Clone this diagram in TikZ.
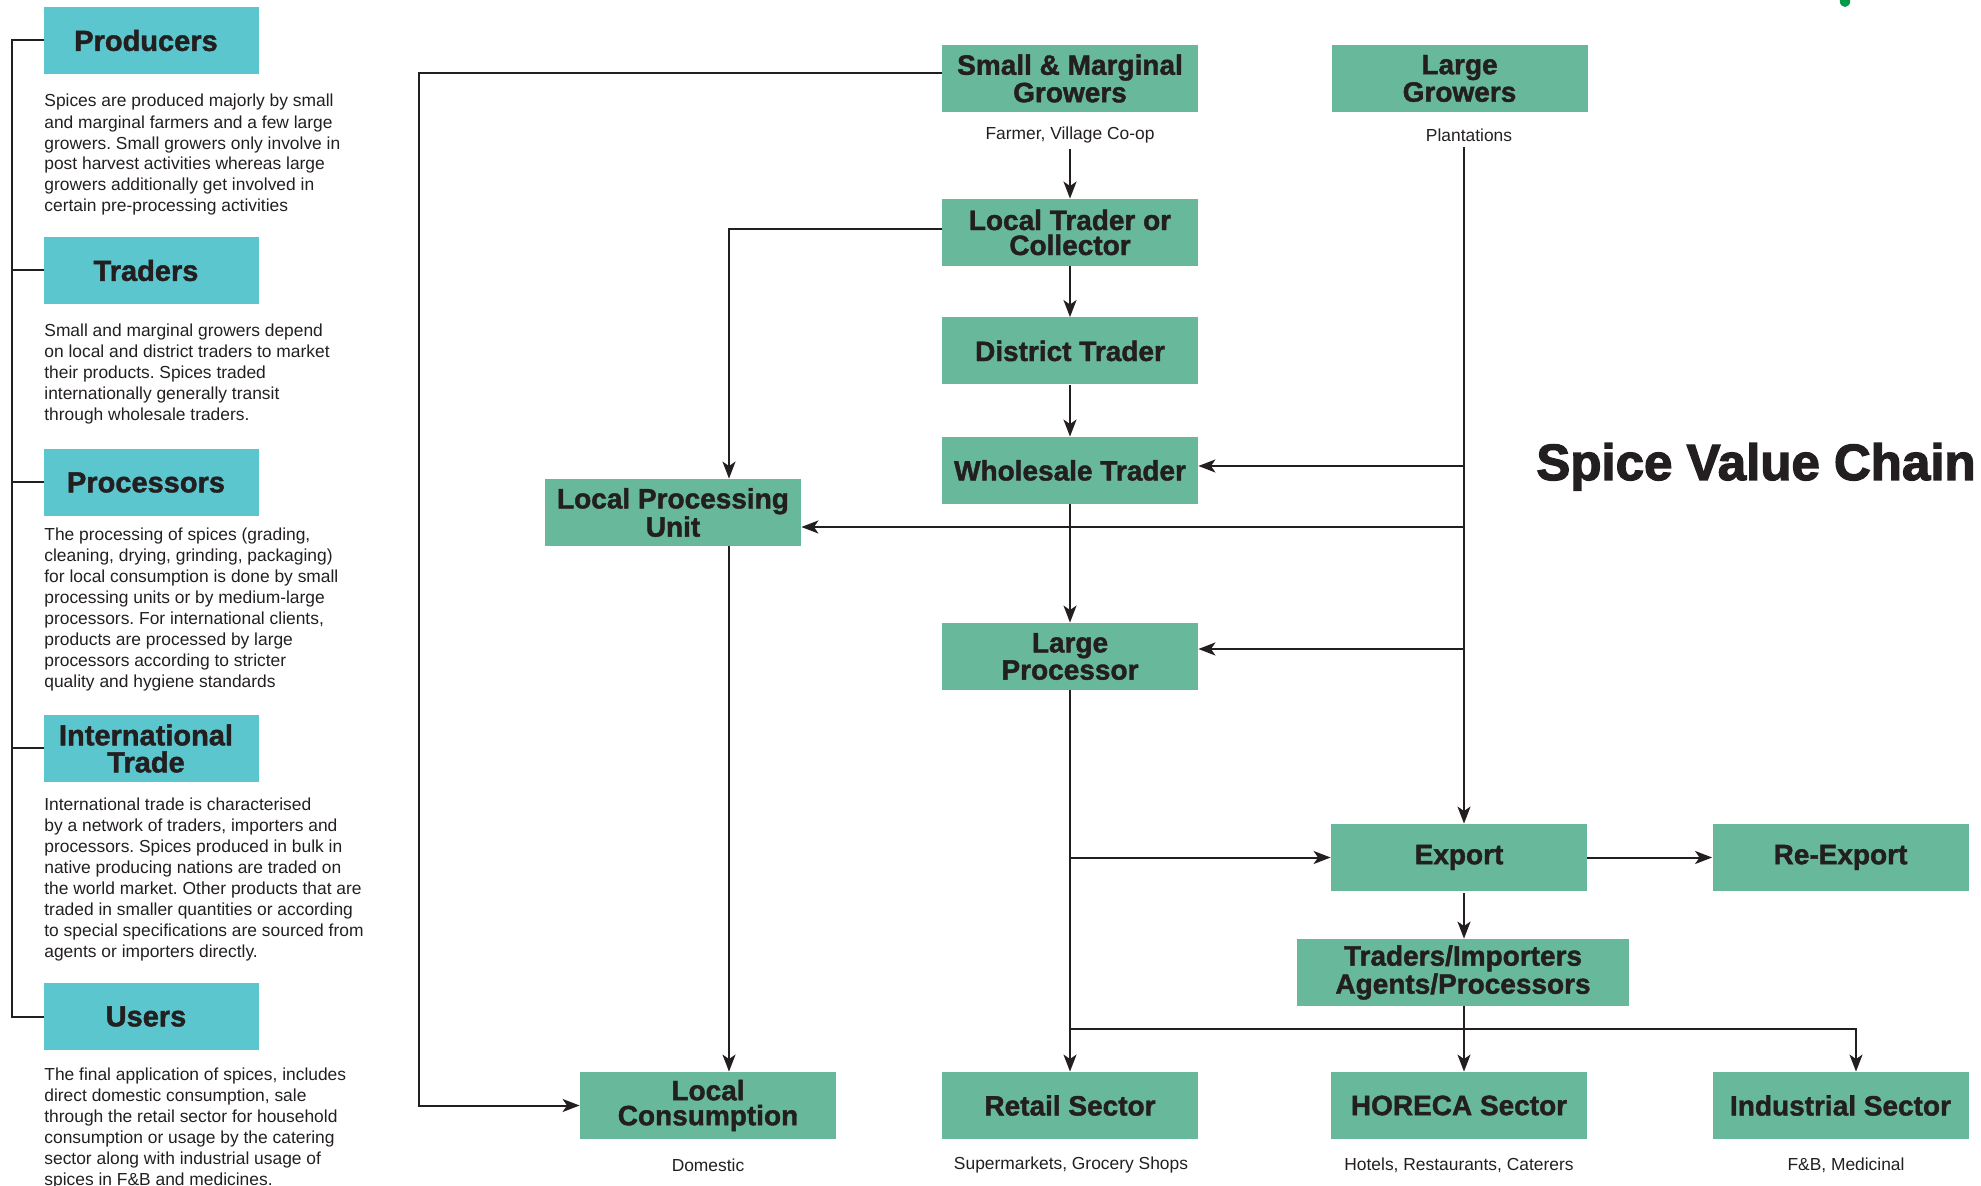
\documentclass[tikz,border=0pt]{standalone}
\usepackage{fontspec}
\setmainfont{Liberation Sans}
\newfontfamily\heavyfont{Liberation Sans Bold}[FakeBold=1.5]
\newfontfamily\titlefont{Liberation Sans Bold}[FakeBold=2.5]
\usetikzlibrary{arrows.meta}
\definecolor{boxgreen}{RGB}{104,184,155}
\definecolor{boxcyan}{RGB}{91,198,206}
\definecolor{ink}{RGB}{35,31,32}
\definecolor{logogreen}{RGB}{0,155,72}
\frenchspacing
\begin{document}
\begin{tikzpicture}[x=0.5pt,y=-0.5pt,
 flow/.style={fill=boxgreen, minimum width=128pt, minimum height=33.5pt, inner sep=0pt, align=center, font=\heavyfont\fontsize{14}{12.5}\selectfont, text=ink},
 cat/.style={fill=boxcyan, minimum width=107.5pt, minimum height=33.5pt, inner sep=0pt},
 cattext/.style={inner sep=0pt, align=center, font=\heavyfont\fontsize{14.5}{13.5}\selectfont, text=ink},
 desc/.style={anchor=north west, inner sep=0pt, align=left, font=\fontsize{8.7}{10.5}\selectfont, text=ink},
 sub/.style={inner sep=0pt, font=\fontsize{8.7}{10}\selectfont, text=ink},
 arr/.style={draw=ink, line width=1pt, -{Stealth[length=8.5pt,width=6.5pt,inset=2.2pt]}},
 ln/.style={draw=ink, line width=1pt}]
\useasboundingbox (0,0) rectangle (1981,1186);

% partial logo at the top edge
\fill[logogreen] (1845,1) ellipse [x radius=2.6pt, y radius=3pt];

% left column
\node[cat] (prod) at (151.5,40.5) {};
\node[cat] (trad) at (151.5,270.5) {};
\node[cat] (proc) at (151.5,482.5) {};
\node[cat] (intl) at (151.5,748.5) {};
\node[cat] (users) at (151.5,1016.5) {};
\node[cattext] (prodt) at ([xshift=-2.75pt]prod.center) {Producers};
\node[cattext] (tradt) at ([xshift=-2.75pt]trad.center) {Traders};
\node[cattext] (proct) at ([xshift=-2.75pt]proc.center) {Processors};
\node[cattext] (intlt) at ([xshift=-2.75pt]intl.center) {International\\Trade};
\node[cattext] (userst) at ([xshift=-2.75pt]users.center) {Users};

\node[desc] (dprod) at (44,94) {Spices are produced majorly by small\\and marginal farmers and a few large\\growers. Small growers only involve in\\post harvest activities whereas large\\growers additionally get involved in\\certain pre-processing activities};
\node[desc] (dtrad) at (44,323) {Small and marginal growers depend\\on local and district traders to market\\their products. Spices traded\\internationally generally transit\\through wholesale traders.};
\node[desc] (dproc) at (44,527) {The processing of spices (grading,\\cleaning, drying, grinding, packaging)\\for local consumption is done by small\\processing units or by medium-large\\processors. For international clients,\\products are processed by large\\processors according to stricter\\quality and hygiene standards};
\node[desc] (dintl) at (44,797) {International trade is characterised\\by a network of traders, importers and\\processors. Spices produced in bulk in\\native producing nations are traded on\\the world market. Other products that are\\traded in smaller quantities or according\\to special specifications are sourced from\\agents or importers directly.};
\node[desc] (dusers) at (44,1067) {The final application of spices, includes\\direct domestic consumption, sale\\through the retail sector for household\\consumption or usage by the catering\\sector along with industrial usage of\\spices in F\&B and medicines.};

\draw[ln] (prod.west) -- ++(-32,0) |- (users.west);
\foreach \n in {trad,proc,intl} \draw[ln] (\n.west) -- ++(-32,0);

% title
\node[anchor=base, inner sep=0pt, font=\titlefont\fontsize{25.5}{30}\selectfont, text=ink] (title) at (1756,480) {Spice Value Chain};

% flow boxes
\node[flow] (smg) at (1070,78.5) {Small \& Marginal\\Growers};
\node[flow] (lg) at (1459.5,78.5) {Large\\Growers};
\node[flow] (ltc) at (1070,232.5) {Local Trader or\\Collector};
\node[flow] (dt) at (1070,351) {District Trader};
\node[flow] (wt) at (1070,470.5) {Wholesale Trader};
\node[flow] (lpu) at (673,512.5) {Local Processing\\Unit};
\node[flow] (lp) at (1070,656.5) {Large\\Processor};
\node[flow] (export) at (1459,857.5) {Export};
\node[flow] (reexport) at (1840.5,857.5) {Re-Export};
\node[flow, minimum width=166pt] (ti) at (1463,972.5) {Traders/Importers\\Agents/Processors};
\node[flow] (lc) at (708,1105.5) {Local\\Consumption};
\node[flow] (retail) at (1070,1105.5) {Retail Sector};
\node[flow] (horeca) at (1459,1105.5) {HORECA Sector};
\node[flow] (ind) at (1840.5,1105.5) {Industrial Sector};

% sub labels
\node[sub] (farmer) at (1070,135) {Farmer, Village Co-op};
\node[sub] (plant) at (1469,135) {Plantations};
\node[sub] (dom) at (708,1165) {Domestic};
\node[sub] (super) at (1071,1165) {Supermarkets, Grocery Shops};
\node[sub] (hotels) at (1459,1165) {Hotels, Restaurants, Caterers};
\node[sub] (fb) at (1846,1165) {F\&B, Medicinal};

% helper coordinates
\coordinate (xa) at (419,0);
\coordinate (xb) at (729,0);
\coordinate (xt) at (1464,0);
\coordinate (xi) at (1856,0);
\coordinate (smgout) at ([yshift=2.75pt]smg.west);
\coordinate (ltcout) at ([yshift=1.75pt]ltc.west);
\coordinate (wtin) at ([yshift=2.25pt]wt.east);
\coordinate (lpuin) at ([yshift=-7.25pt]lpu.east);
\coordinate (lpin) at ([yshift=3.75pt]lp.east);
\coordinate (split) at (1071,1029);

% connectors
\draw[arr] (smgout) -- (smgout -| xa) |- (lc.west);
\draw[arr] ([yshift=-2.5pt]farmer.south) -- (ltc.north);
\draw[arr] (ltcout) -| (xb |- lpu.north);
\draw[arr] (ltc.south) -- (dt.north);
\draw[arr] (dt.south) -- (wt.north);
\draw[arr] (wt.south) -- (lp.north);
\draw[arr] (lp.south) -- (retail.north);
\draw[arr] (lp.south |- export.west) -- (export.west);
\draw[arr] (split) -| (xi |- ind.north);
\draw[arr] (export.east) -- (reexport.west);
\draw[arr] ([yshift=-1pt]xt |- export.south) -- (xt |- ti.north);
\draw[arr] (xt |- ti.south) -- (xt |- horeca.north);
\draw[arr] ([yshift=-2.5pt]xt |- plant.south) -- (xt |- export.north);
\draw[arr] (xt |- wtin) -- (wtin);
\draw[arr] (xt |- lpuin) -- (lpuin);
\draw[arr] (xt |- lpin) -- (lpin);
\draw[arr] (xb |- lpu.south) -- (xb |- lc.north);
\end{tikzpicture}
\end{document}
